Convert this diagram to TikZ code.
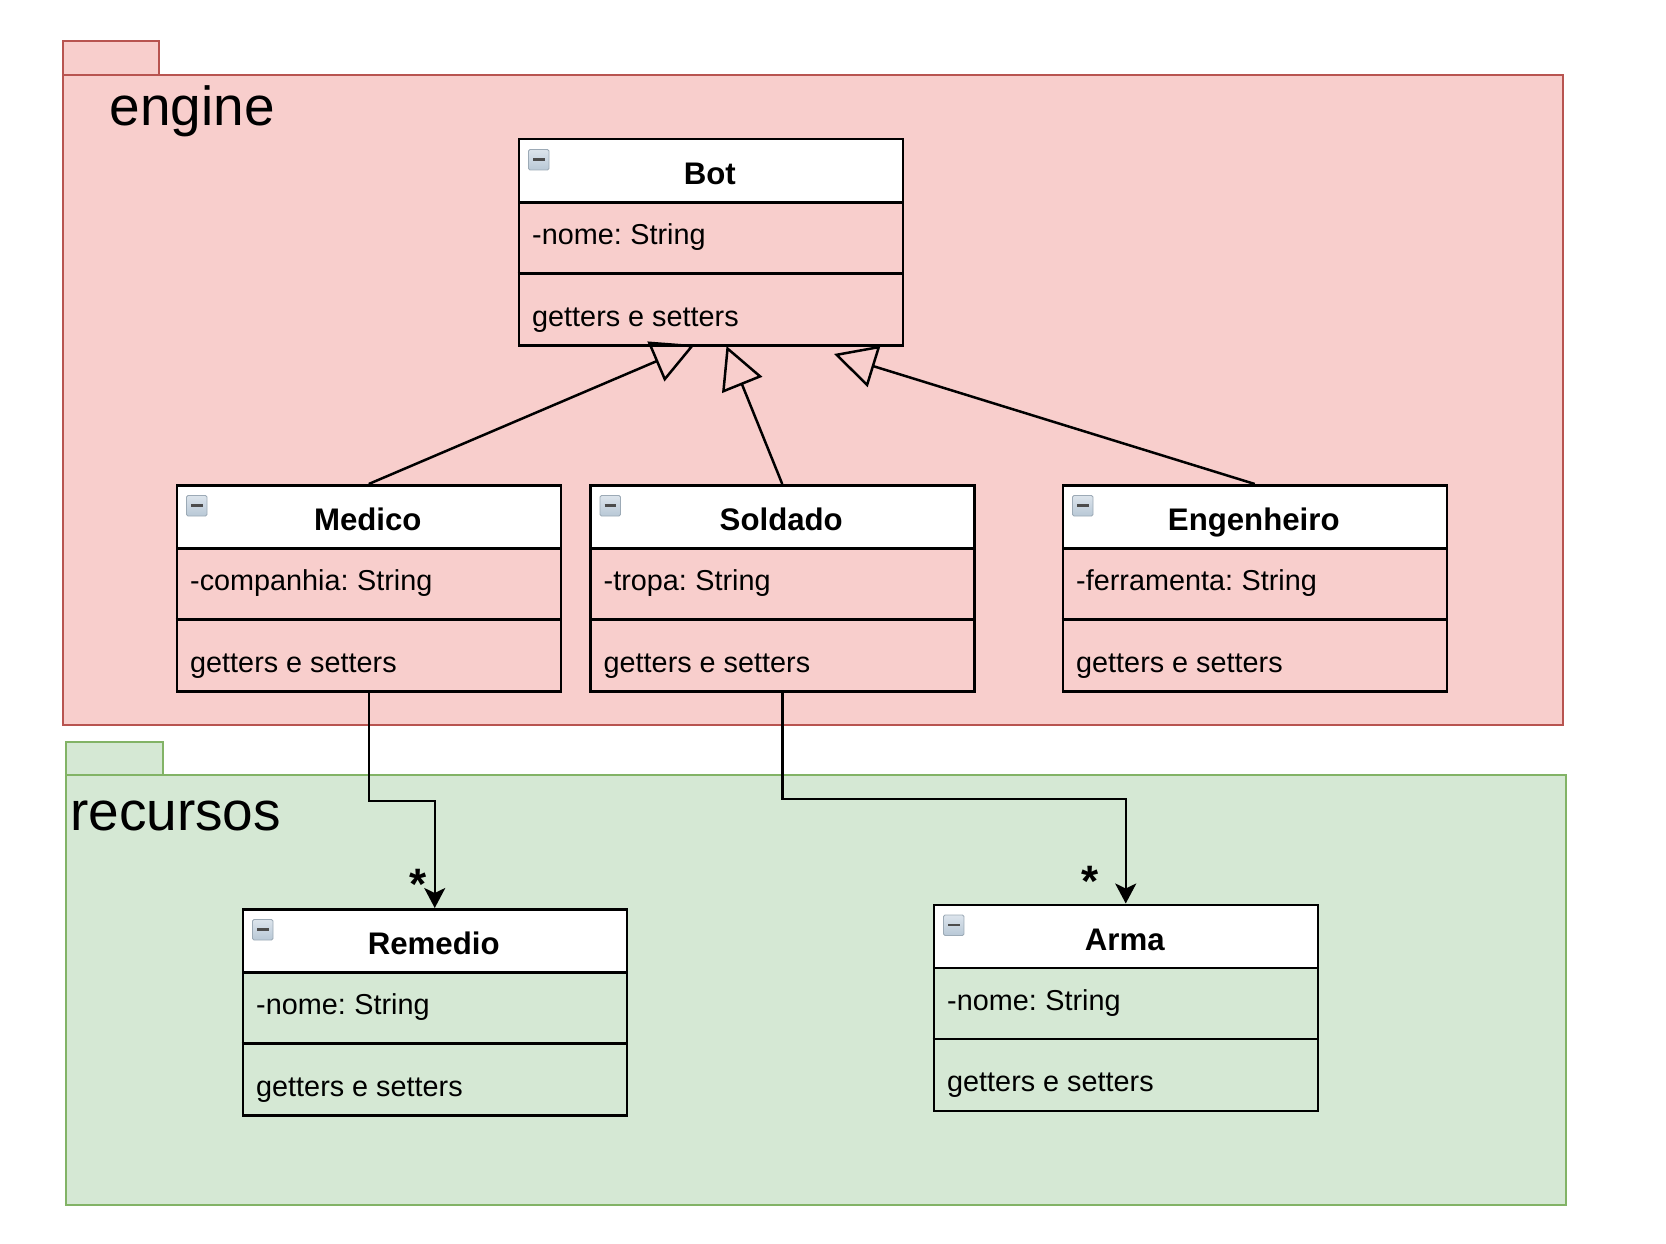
\documentclass[tikz,border=0pt]{standalone}
\usepackage{fontspec}
\setmainfont{Liberation Sans}
\usetikzlibrary{arrows.meta,calc}
\definecolor{engfill}{HTML}{F8CECC}
\definecolor{engline}{HTML}{B85450}
\definecolor{recfill}{HTML}{D5E8D4}
\definecolor{recline}{HTML}{82B366}
\definecolor{icontop}{HTML}{DCE4EC}
\definecolor{iconbot}{HTML}{B8C8D6}
\tikzset{
  x=1pt,y=-1pt,
  pkgeng/.style={draw=engline,fill=engfill,line width=2pt,inner sep=0,anchor=north west},
  pkgrec/.style={draw=recline,fill=recfill,line width=2pt,inner sep=0,anchor=north west},
  pkglabel/.style={anchor=base west,inner sep=0,font=\fontsize{55}{60}\selectfont},
  classbox/.style={draw=black,line width=2.5pt,inner sep=0,anchor=north west,minimum width=384pt,minimum height=206pt},
  classhead/.style={draw=black,fill=white,line width=2.5pt,inner sep=0,anchor=north west,minimum width=384pt,minimum height=63pt},
  classtitle/.style={anchor=base,inner sep=0,font=\fontsize{31.2}{34}\selectfont\bfseries},
  classtext/.style={anchor=base west,inner sep=0,font=\fontsize{28.8}{34}\selectfont},
  divider/.style={draw=black,line width=2.5pt},
  iconbox/.style={draw=iconbot!85!black,line width=0.8pt,rounded corners=1.5pt,top color=icontop,bottom color=iconbot},
  inherit/.style={draw=black,line width=2.5pt,-{Triangle[open,length=42pt,width=43pt,line width=2.5pt]}},
  assoc/.style={draw=black,line width=2.5pt,-{Stealth[length=20pt,width=21pt,inset=5pt]}},
  mult/.style={inner sep=0,font=\fontsize{44}{44}\selectfont\bfseries},
}
\newcommand{\umlclass}[6]{%
  \node[classbox] (#1) at (#2,#3) {};
  \node[classhead] (#1-head) at (#1.north west) {};
  \node[classtitle] (#1-title) at ($(#1.north)+(-1,46.5)$) {#4};
  \node[classtext] (#1-attr) at ($(#1.north west)+(14.5,106.5)$) {#5};
  \draw[divider] ($(#1.north west)+(0,135.5)$) -- ++(384,0);
  \node[classtext] (#1-meth) at ($(#1.north west)+(14.5,188)$) {#6};
  \shade[iconbox] ($(#1.north west)+(11,11.5)$) rectangle ++(20.5,20.5);
  \draw[black!70,line width=2.6pt] ($(#1.north west)+(15.5,21.5)$) -- ++(11.5,0);
}
\begin{document}
\begin{tikzpicture}
\useasboundingbox (0,0) rectangle (1666,1244);
\fill[white] (0,0) rectangle (1666,1244);
% packages
\node[pkgeng,minimum width=96pt,minimum height=34pt] (engtab) at (62,40) {};
\node[pkgeng,minimum width=1500pt,minimum height=650pt] (engine) at (62,74) {};
\node[pkglabel] (englabel) at (109.5,125.5) {engine};
\node[pkgrec,minimum width=97pt,minimum height=33pt] (rectab) at (65,741) {};
\node[pkgrec,minimum width=1500pt,minimum height=430pt] (recursos) at (65,774) {};
\node[pkglabel] (reclabel) at (70,830.5) {recursos};
% classes
\umlclass{Bot}{517.5}{138}{Bot}{-nome:\kern0.5pt\ String}{getters e setters}
\umlclass{Medico}{175.5}{484}{Medico}{-companhia:\kern0.5pt\ String}{getters e setters}
\umlclass{Soldado}{589}{484}{Soldado}{-tropa:\kern0.5pt\ String}{getters e setters}
\umlclass{Engenheiro}{1061.5}{484}{Engenheiro}{-ferramenta:\kern0.5pt\ String}{getters e setters}
\umlclass{Remedio}{241.5}{908}{Remedio}{-nome:\kern0.5pt\ String}{getters e setters}
\umlclass{Arma}{932.5}{903.5}{Arma}{-nome:\kern0.5pt\ String}{getters e setters}
% inheritance
\coordinate (tipM) at (694.5,345);
\coordinate (tipS) at (726.5,346);
\coordinate (tipE) at (834,354);
\draw[inherit] (Medico.north) -- (tipM);
\draw[inherit] (Soldado.north) -- (tipS);
\draw[inherit] (Engenheiro.north) -- (tipE);
% associations
\draw[assoc] (Medico.south) -- ++(0,108.5) -| (Remedio.north);
\draw[assoc] (Soldado.south) -- ++(0,106.5) -| (Arma.north);
\node[mult] (starR) at (418,884) {*};
\node[mult] (starA) at (1090,881) {*};
\end{tikzpicture}
\end{document}
